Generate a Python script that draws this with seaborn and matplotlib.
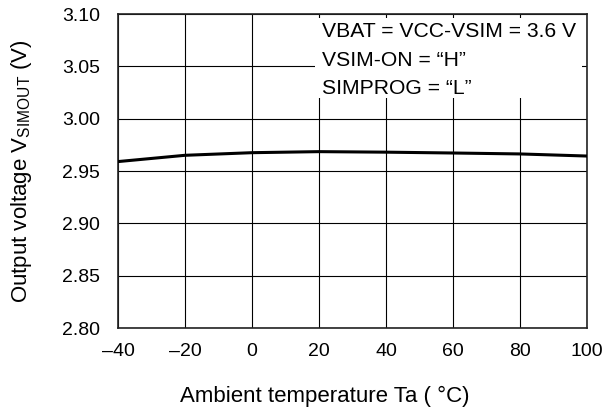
import matplotlib
matplotlib.use("Agg")
import matplotlib.pyplot as plt
import matplotlib.patches as mpatches
import pandas as pd
import seaborn as sns

# values
temps = [-40, -20, 0, 20, 40, 60, 80, 100]
vout = [2.9590, 2.9650, 2.9675, 2.9685, 2.9680, 2.9672, 2.9663, 2.9643]
x_ticks = [-40, -20, 0, 20, 40, 60, 80, 100]
x_labels = ["\u201340", "\u201320", "0", "20", "40", "60", "80", "100"]
y_ticks = [2.80, 2.85, 2.90, 2.95, 3.00, 3.05, 3.10]
conditions = ["VBAT = VCC-VSIM = 3.6 V", "VSIM-ON = \u201cH\u201d", "SIMPROG = \u201cL\u201d"]


def main():
    sns.set_style("white")
    plt.rcParams["font.family"] = ["Liberation Sans", "DejaVu Sans"]
    plt.rcParams["text.color"] = "black"
    plt.rcParams["axes.labelcolor"] = "black"

    df = pd.DataFrame({"Ta": temps, "V": vout})

    fig = plt.figure(figsize=(6.08, 4.18), dpi=100)
    ax = fig.add_axes([0.194, 0.2153, 0.7714, 0.7512])

    sns.lineplot(data=df, x="Ta", y="V", color="black", linewidth=2.2, ax=ax, zorder=4)

    ax.set_xlim(-40, 100)
    ax.set_ylim(2.80, 3.10)
    ax.set_xticks(x_ticks)
    ax.set_xticklabels(x_labels)
    ax.set_yticks(y_ticks)
    ax.set_yticklabels([f"{v:.2f}" for v in y_ticks])
    ax.tick_params(axis="both", length=0, labelsize=14, colors="black")
    ax.tick_params(axis="x", pad=11)
    ax.tick_params(axis="y", pad=13)

    ax.grid(True, color="black", linewidth=0.8)
    ax.set_axisbelow(True)
    for sp in ax.spines.values():
        sp.set_color("#222222")
        sp.set_linewidth(1.2)

    # white box with the test conditions, hides the grid behind it
    box = mpatches.Rectangle((0.421, 0.7325), 0.568, 0.255, transform=ax.transAxes,
                             facecolor="white", edgecolor="none", zorder=3)
    ax.add_patch(box)
    for i, line in enumerate(conditions):
        ax.text(0.435, 0.943 - i * 0.0895, line, transform=ax.transAxes,
                fontsize=15.2, va="center", ha="left", color="black", zorder=5)

    ax.set_xlabel("Ambient temperature Ta ( \u00b0C)", fontsize=16)
    ax.set_ylabel("Output voltage V$\\mathregular{_{SIMOUT}}$ (V)", fontsize=16)
    ax.xaxis.set_label_coords(0.44, -0.185)
    ax.yaxis.set_label_coords(-0.179, 0.5)

    fig.savefig("out.png", dpi=100)


if __name__ == "__main__":
    main()
